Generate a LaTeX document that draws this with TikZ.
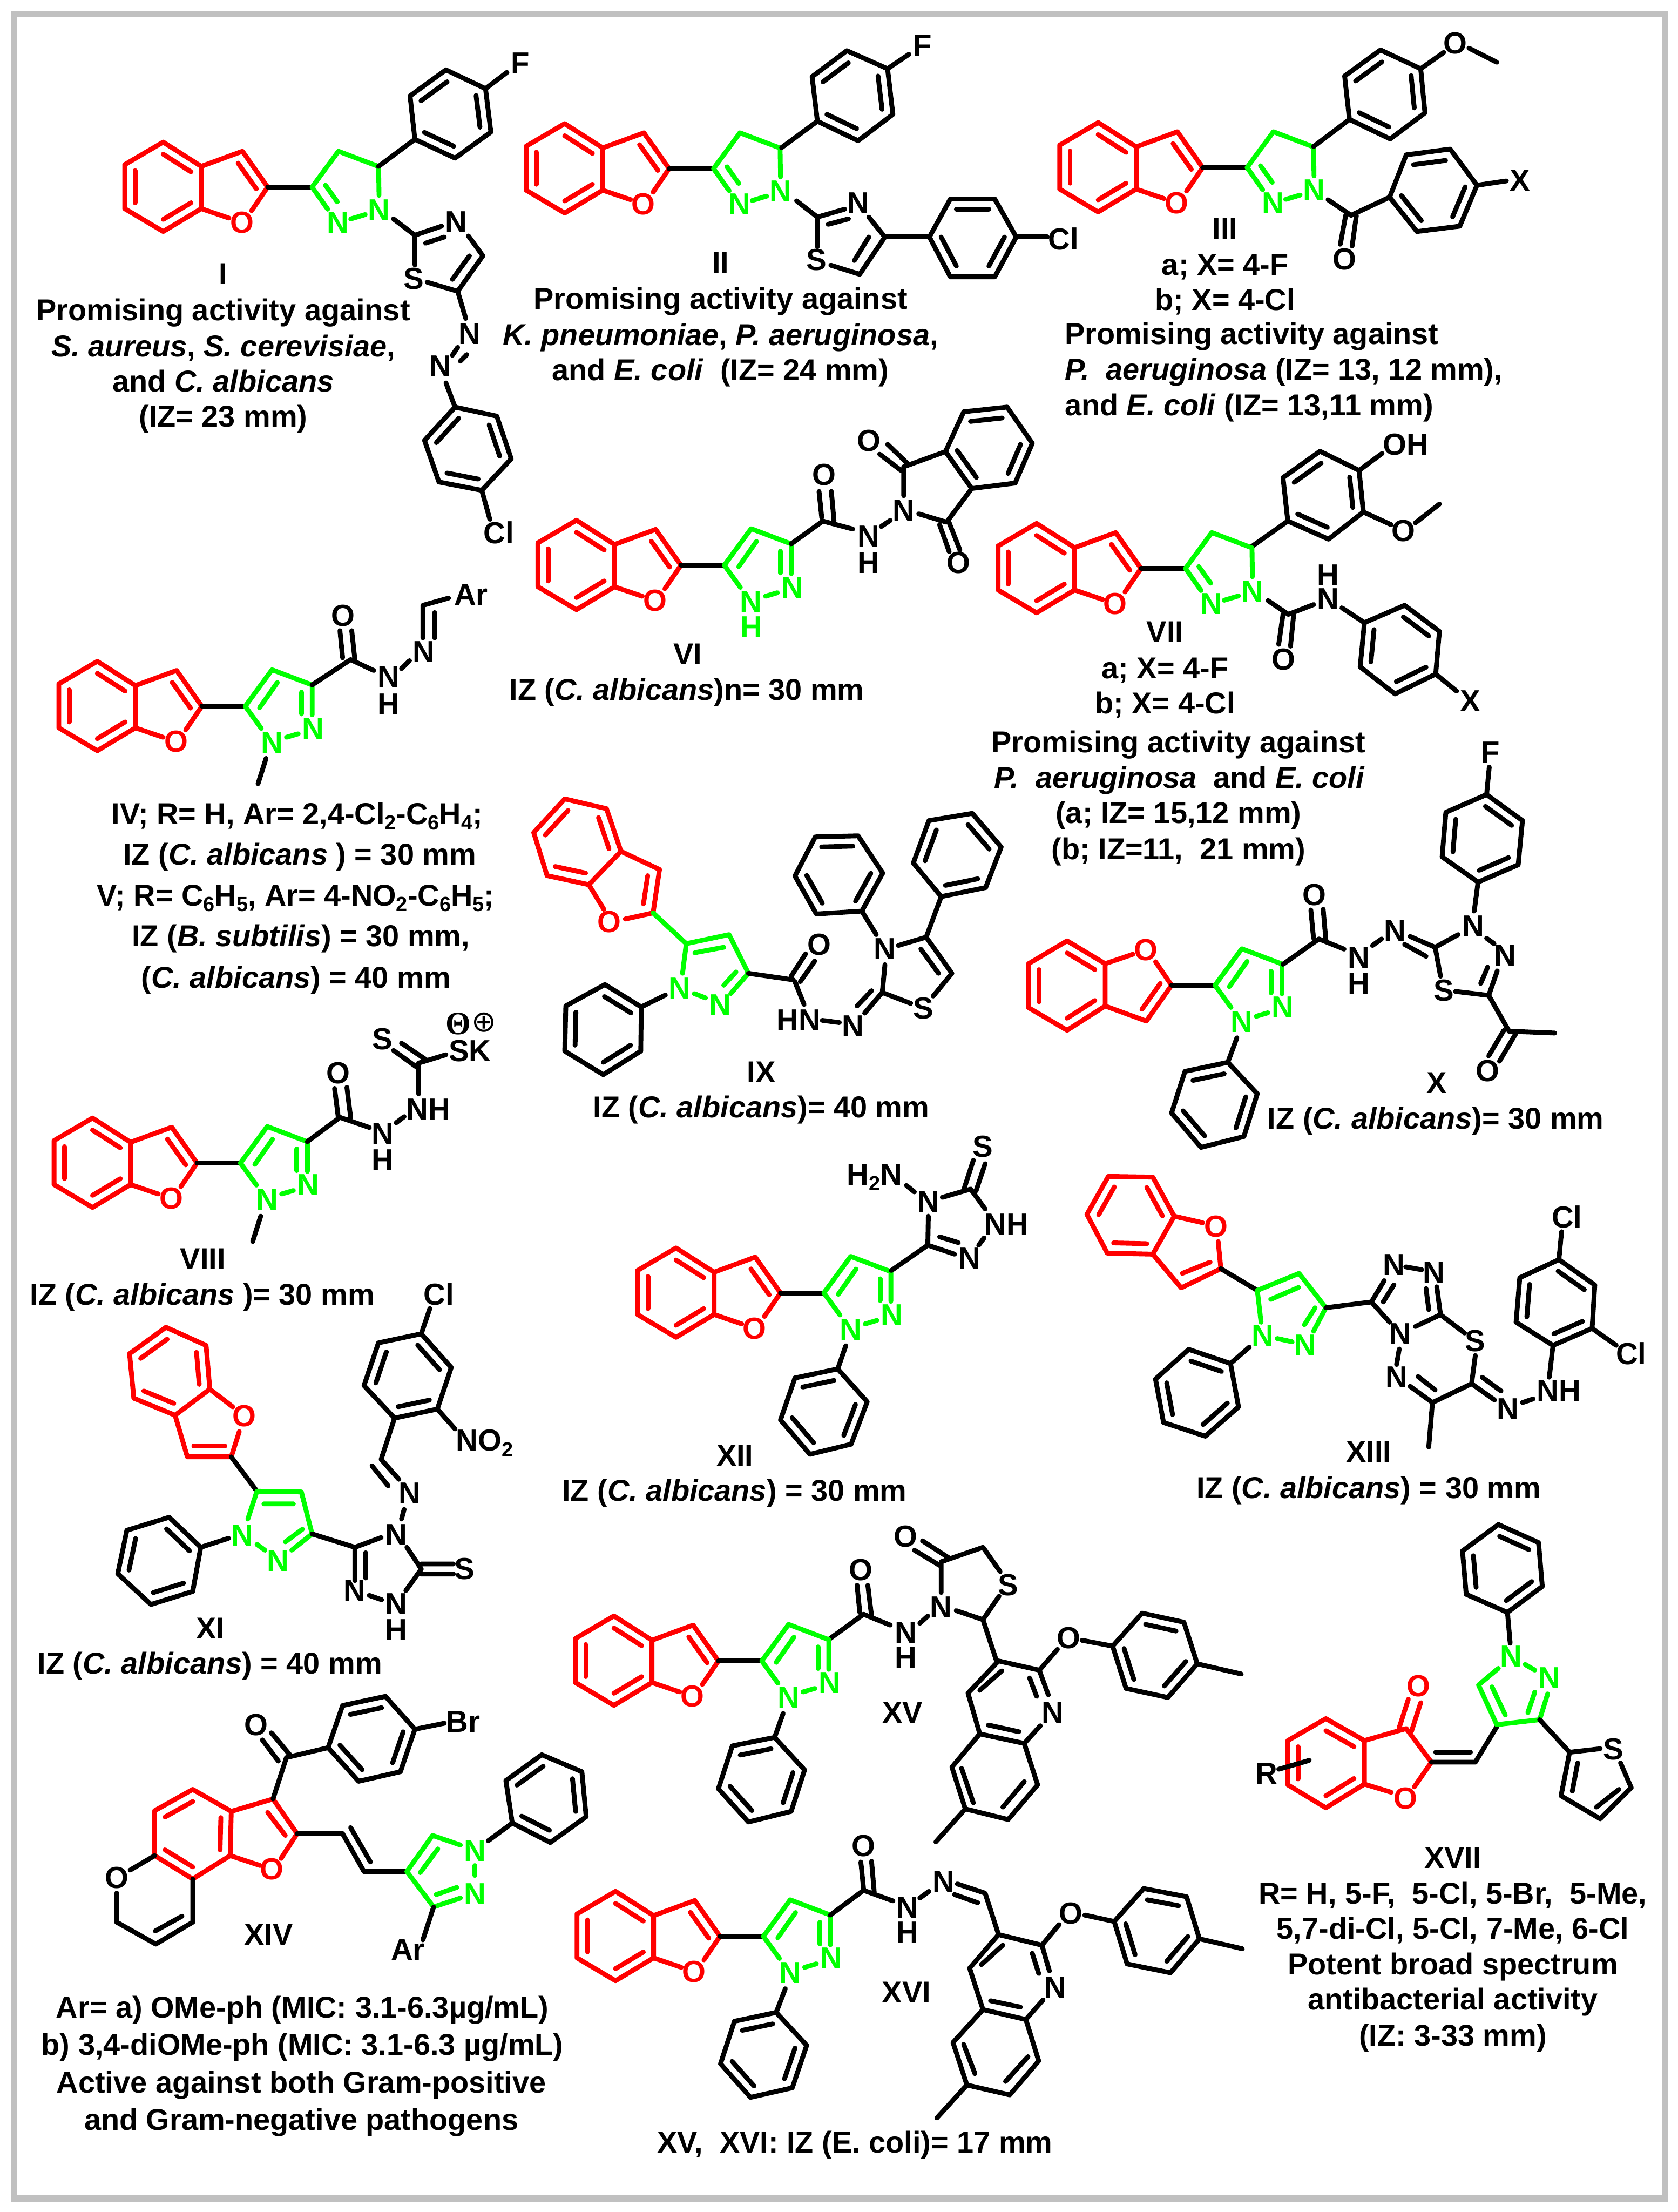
\documentclass[tikz,border=0pt]{standalone}
\usepackage{fontspec}
\setmainfont{Liberation Sans}
\newfontfamily\djv{DejaVu Sans}
\newfontfamily\lsr{Liberation Serif}
\usetikzlibrary{calc}
\newcounter{ln}
\tikzset{
 bond/.style={line width=3.4pt,line cap=round,line join=round},
 bk/.style={bond,black},
 rd/.style={bond,color={rgb,255:red,255;green,0;blue,0}},
 gr/.style={bond,color={rgb,255:red,0;green,255;blue,0}},
 atom/.style={inner sep=0pt,font=\fontsize{21.6}{21.6}\selectfont\bfseries},
 lbl/.style={inner sep=0pt,font=\fontsize{21.4}{25}\selectfont\bfseries},
 cA/.style={x=.3797pt,y=-.2566pt},
 cB/.style={xshift=595.4pt,x=.38pt,y=-.2566pt},
 cC/.style={yshift=-402.3pt,x=.3797pt,y=-.2566pt},
 cD/.style={xshift=595.4pt,yshift=-402.3pt,x=.38pt,y=-.2566pt},
 cE/.style={yshift=-804.7pt,x=.3797pt,y=-.2566pt},
 cF/.style={xshift=595.4pt,yshift=-804.7pt,x=.38pt,y=-.2566pt},
 cG/.style={yshift=-1174.8pt,x=.3797pt,y=-.251pt},
 cH/.style={xshift=595.4pt,yshift=-1174.8pt,x=.38pt,y=-.251pt},
}
\definecolor{rdc}{RGB}{255,0,0}
\definecolor{grc}{RGB}{0,255,0}
\definecolor{frm}{RGB}{192,192,192}
\newcommand\bz[3]{%
  \foreach \px/\py [count=\i from 0] in {#3} {\coordinate (v\i) at (\px,\py);}
  \coordinate (vc) at ($(v0)!.5!(v3)$);
  \draw[#1] (v0)--(v1)--(v2)--(v3)--(v4)--(v5)--cycle;
  \ifnum#2=0
    \foreach \a/\b in {0/1,2/3,4/5} {\draw[#1] ($(v\a)!.27!(vc)$)--($(v\b)!.27!(vc)$);}
  \else
    \foreach \a/\b in {1/2,3/4,5/0} {\draw[#1] ($(v\a)!.27!(vc)$)--($(v\b)!.27!(vc)$);}
  \fi
}
\newcommand\atm[3][black]{\stepcounter{ln}\node[atom,text=#1] (a\arabic{ln}) at (#2) {#3};}
\newcommand\tx[2]{\stepcounter{ln}\node[lbl,anchor=base] (t\arabic{ln}) at (#1) {#2};}
\newcommand\txl[2]{\stepcounter{ln}\node[lbl,anchor=base west] (t\arabic{ln}) at (#1) {#2};}
\newcommand\sbs[1]{\raisebox{-4pt}{\fontsize{14.5}{14.5}\selectfont #1}}
% benzofuran, C2 at #2
\newcommand\bfu[2][1]{\begin{scope}[shift={(#2)},x=1pt,y=-1pt,yscale=#1]
  \bz{rd}{0}{-74.1/-31.9,-47.1/-14.7,-47.1/15.3,-74.1/31.5,-101.4/15.3,-101.4/-15.9}
  \draw[rd] (-47.1,-14.7)--(-17.9,-25.4)--(0,0)--(-11.4,16.7);
  \draw[rd] (-27.4,22)--(-47.1,15.3);
  \draw[rd] (-21,-17)--(-8,1.3);
  \atm[rdc]{-18.3,25.1}{O}
\end{scope}}
% pyrazole attached to C2 at #1
\newcommand\pzo[1]{\begin{scope}[shift={(#1)},x=1pt,y=-1pt]
  \draw[bk] (0,0)--(30.8,0);
  \draw[gr] (42.2,15.7)--(30.8,0)--(49.8,-25.9)--(78.3,-15.1)--(78.3,6);
  \draw[gr] (41,1)--(53.6,-16.9);
  \draw[gr] (70.7,-10)--(70.7,5.4);
  \draw[gr] (60,22)--(68.4,19.5);
  \atm[grc]{79,15.7}{N}
  \atm[grc]{49.8,25.9}{N}
\end{scope}}
% pyrazoline attached to C2 at #1
\newcommand\pzl[1]{\begin{scope}[shift={(#1)},x=1pt,y=-1pt]
  \draw[bk] (0,0)--(31.5,0);
  \draw[gr] (42.6,15.7)--(31.5,0)--(50.2,-25.4)--(78.7,-14.6)--(79,5.9);
  \draw[gr] (41,-1.3)--(49.4,10.5);
  \draw[gr] (58.9,22.6)--(69.2,19.5);
  \atm[grc]{79,16.2}{N}
  \atm[grc]{49.8,25.1}{N}
\end{scope}}
\begin{document}
\begin{tikzpicture}[x=1pt,y=1pt]
\useasboundingbox (0,0) rectangle (1190,-1568.6);
\fill[white] (0,0) rectangle (1190,-1568.6);
\draw[frm,line width=4.7pt] (10,-10) rectangle (1181,-1559);

% ---------- I, II
\begin{scope}[cA]
\bfu{500,517}\pzl{500,517}
\bz{bk}{1}{833/193,907/245,917/365,850/437,775/385,766/265}
\draw[bk] (707,460)--(775,385) (907,245)--(947,200);
\atm{972,175}{F}
\draw[bk] (735,605)--(775,650)--(825,625) (795,672)--(830,655);
\atm{852,613}{N}
\draw[bk] (875,652)--(902,707)--(855,805)--(798,780) (877,707)--(845,772);
\atm{773,770}{S}
\draw[bk] (775,732)--(775,650);
\draw[bk] (855,805)--(870,880);
\atm{877,923}{N}
\draw[bk] (855,960)--(845,982) (872,980)--(860,998);
\atm{823,1012}{N}
\draw[bk] (833,1058)--(850,1125);
\bz{bk}{1}{850/1125,928/1150,955/1268,900/1355,820/1332,793/1217}
\draw[bk] (900,1355)--(915,1435);
\atm{932,1472}{Cl}
\tx{417,785}{I}
\tx{417,885}{Promising activity against}
\tx{417,985}{\textit{S. aureus}, \textit{S. cerevisiae},}
\tx{417,1082}{and \textit{C. albicans}}
\tx{417,1180}{(IZ= 23 mm)}
% II
\bfu{1250,466}\pzl{1250,466}
\bz{bk}{1}{1582/140,1658/190,1668/316,1603/389,1527/335,1517/212}
\draw[bk] (1460,408)--(1527,335) (1658,190)--(1698,150);
\atm{1723,125}{F}
\draw[bk] (1488,555)--(1527,600)--(1527,682) (1527,600)--(1578,578) (1547,620)--(1585,605);
\atm{1525,718}{S}
\atm{1603,562}{N}
\draw[bk] (1623,600)--(1653,655)--(1606,758)--(1552,733) (1623,655)--(1596,720);
\tx{1346,755}{II}
\tx{1346,855}{Promising activity against}
\tx{1346,955}{\textit{K. pneumoniae}, \textit{P. aeruginosa},}
\tx{1346,1052}{and \textit{E. coli}\ \ (IZ= 24 mm)}
% VI left part
\bfu{1272,1562}\pzo{1272,1562}
\draw[bk] (1478,1503)--(1537,1440)
  (1530,1358)--(1535,1430) (1553,1358)--(1558,1440);
\atm{1540,1312}{O}
\end{scope}

\begin{scope}[cB]
\draw[bk] (85,655)--(168,655);
\bz{bk}{1}{168/655,207/550,290/550,330/655,290/765,207/765}
\draw[bk] (330,655)--(388,655);
\atm{418,660}{Cl}
% III
\bfu{678,463}\pzl{678,463}
\bz{bk}{1}{1010/138,1085/190,1093/312,1028/384,952/330,943/210}
\draw[bk] (885,405)--(952,330) (1085,190)--(1128,145) (1175,133)--(1227,172);
\atm{1150,120}{O}
\draw[bk] (912,552)--(955,595)--(1027,545) (945,595)--(935,675) (965,595)--(957,680);
\atm{943,717}{O}
\bz{bk}{1}{1027/545,1058/428,1140/412,1190/512,1158/625,1078/640}
\draw[bk] (1190,512)--(1245,500);
\atm{1270,498}{X}
\tx{720,660}{III}
\tx{720,760}{a; X= 4-F}
\tx{720,858}{b; X= 4-Cl}
\txl{420,952}{Promising activity against}
\txl{420,1050}{\textit{P.\ \ aeruginosa} (IZ= 13, 12 mm),}
\txl{420,1148}{and \textit{E. coli} (IZ= 13,11 mm)}
% VI right part
\draw[bk] (-31,1440)--(25,1462);
\atm{55,1482}{N}
\atm{55,1555}{H}
\draw[bk] (78,1455)--(95,1438);
\atm{120,1410}{N}
\draw[bk] (120,1370)--(120,1290)--(198,1248) (75,1255)--(115,1300) (90,1228)--(130,1285);
\atm{55,1218}{O}
\draw[bk] (148,1420)--(200,1443)--(247,1350) (187,1450)--(205,1525) (205,1445)--(225,1520);
\atm{222,1555}{O}
\bz{bk}{1}{198/1248,232/1138,313/1125,360/1225,328/1335,247/1350}
% VII aryl
\bz{bk}{1}{897/1247,970/1300,978/1415,913/1490,837/1440,828/1320}
\draw[bk] (770,1510)--(837,1440) (970,1300)--(1013,1253) (978,1415)--(1030,1450) (1075,1445)--(1120,1393);
\atm{1057,1228}{OH}
\atm{1053,1467}{O}
\end{scope}

% ---------- IV, VIII top, IX
\begin{scope}[cC]
\bfu{377,384}\pzo{377,384}
\draw[bk] (497,528)--(482,598) (583,325)--(655,255)--(698,285) (635,175)--(640,250) (657,175)--(663,255);
\atm{641,133}{O}
\atm{726,303}{N}
\atm{726,378}{H}
\draw[bk] (750,280)--(765,258);
\atm{792,233}{N}
\draw[bk] (790,195)--(790,105)--(838,85) (812,125)--(812,195);
\atm{880,75}{Ar}
\tx{555,710}{IV; R= H, Ar= 2,4-Cl\sbs{2}-C\sbs{6}H\sbs{4};}
\tx{560,823}{IZ (\textit{C. albicans} ) = 30 mm}
\tx{552,935}{V; R= C\sbs{6}H\sbs{5}, Ar= 4-NO\sbs{2}-C\sbs{6}H\sbs{5};}
\tx{562,1048}{IZ (\textit{B. subtilis}) = 30 mm,}
\tx{553,1162}{(\textit{C. albicans}) = 40 mm}
% VI labels
\atm[grc]{1404,165}{H}
\tx{1285,268}{VI}
\tx{1283,367}{IZ (\textit{C. albicans})n= 30 mm}
% VIII upper
\draw[bk] (635,1520)--(690,1548) (625,1440)--(632,1520) (648,1437)--(655,1520);
\atm{632,1397}{O}
\atm{715,1565}{N}
\draw[bk] (740,1535)--(755,1518);
\atm{800,1497}{NH}
\draw[bk] (782,1455)--(782,1370)--(833,1347) (735,1335)--(782,1385) (750,1315)--(797,1362);
\atm{714,1303}{S}
\atm{878,1337}{SK}
\stepcounter{ln}\node[inner sep=0pt,font=\lsr\bfseries\fontsize{23}{23}\selectfont] (a\arabic{ln}) at (856,1262) {Θ};
\stepcounter{ln}\node[inner sep=0pt,font=\djv\fontsize{21}{21}\selectfont] (a\arabic{ln}) at (904,1258) {⊕};
% IX
\bz{rd}{1}{1055/640,1133/667,1160/785,1100/877,1022/852,997/733}
\draw[rd] (1160,785)--(1232,835)--(1220,955)--(1168,972) (1210,852)--(1202,930) (1100,877)--(1128,945);
\atm[rdc]{1138,980}{O}
\draw[gr] (1220,955)--(1282,1040)--(1362,1015)--(1398,1122)--(1365,1178) (1298,1065)--(1352,1050) (1375,1118)--(1352,1155) (1297,1178)--(1318,1190) (1275,1122)--(1282,1040);
\atm[grc]{1345,1210}{N}
\atm[grc]{1270,1163}{N}
\draw[bk] (1243,1182)--(1198,1215);
\bz{bk}{0}{1198/1215,1130/1153,1057/1212,1055/1337,1127/1402,1197/1337}
\draw[bk] (1398,1122)--(1482,1140) (1478,1130)--(1505,1068) (1495,1145)--(1522,1088) (1485,1145)--(1502,1208);
\atm{1530,1042}{O}
\atm{1492,1252}{HN}
\bz{bk}{1}{1610/950,1525/958,1485/853,1523/745,1603/742,1649/845}
\draw[bk] (1610,950)--(1637,1015);
\tx{1422,1423}{IX}
\tx{1422,1520}{IZ (\textit{C. albicans})= 40 mm}
\end{scope}

% ---------- VII, IX right, X
\begin{scope}[cD]
\bfu{563,3}\pzl{563,3}
\draw[bk] (800,92)--(838,130)--(885,103) (828,130)--(820,213) (848,130)--(842,218);
\atm{829,255}{O}
\atm{912,88}{N}
\atm{912,22}{H}
\draw[bk] (938,112)--(980,153);
\bz{bk}{1}{980/153,1055/105,1120/177,1113/295,1037/350,972/275}
\draw[bk] (1113,295)--(1152,342);
\atm{1178,370}{X}
\tx{608,208}{VII}
\tx{608,308}{a; X= 4-F}
\tx{608,405}{b; X= 4-Cl}
\tx{633,512}{Promising activity against}
\tx{635,610}{\textit{P.\ \ aeruginosa}\ \ and \textit{E. coli}}
\tx{633,708}{(a; IZ= 15,12 mm)}
\tx{633,807}{(b; IZ=11,\ \ 21 mm)}
% IX right
\draw[bk] (-32,1252)--(0,1258);
\atm{25,1268}{N}
\draw[bk] (80,1175)--(47,1232) (60,1170)--(33,1212) (80,1175)--(133,1205) (175,1185)--(210,1122)--(162,1022)--(110,1045) (185,1122)--(152,1055) (85,1098)--(80,1175) (162,1022)--(190,910);
\atm{157,1218}{S}
\atm{85,1055}{N}
\bz{bk}{1}{190/910,138/817,167/700,248/680,302/773,273/885}
% X
\bfu[-1]{620,1155}\pzo{620,1155}
\draw[bk] (742,1300)--(725,1368);
\bz{bk}{1}{725/1368,780/1455,755/1573,675/1603,620/1508,645/1393}
\draw[bk] (828,1097)--(895,1027)--(942,1055) (880,947)--(885,1025) (903,945)--(908,1030);
\atm{887,905}{O}
\atm{970,1078}{N}
\atm{970,1150}{H}
\draw[bk] (995,1045)--(1012,1027);
\atm{1037,1003}{N}
\draw[bk] (1065,1020)--(1112,1050)--(1155,1015) (1055,1042)--(1095,1075);
\atm{1183,992}{N}
\draw[bk] (1185,950)--(1192,870) (1208,1025)--(1222,1040);
\atm{1243,1073}{N}
\draw[bk] (1228,1115)--(1212,1183)--(1150,1172) (1210,1105)--(1197,1150) (1122,1130)--(1112,1050);
\atm{1128,1170}{S}
\bz{bk}{1}{1192/870,1125/800,1132/677,1208/628,1275/700,1267/822}
\draw[bk] (1208,628)--(1213,552);
\atm{1215,512}{F}
\draw[bk] (1212,1183)--(1250,1282)--(1335,1287) (1240,1280)--(1212,1350) (1262,1290)--(1232,1365);
\atm{1210,1392}{O}
\tx{1115,1453}{X}
\tx{1113,1552}{IZ (\textit{C. albicans})= 30 mm}
\end{scope}

% ---------- VIII, XI, XII
\begin{scope}[cE]
\bfu{368,78}\pzo{368,78}
\draw[bk] (487,225)--(472,295) (574,19)--(635,-48);
\atm{715,70}{H}
\tx{379,372}{VIII}
\tx{378,470}{IZ (\textit{C. albicans} )= 30 mm}
% XI
\bz{rd}{1}{310/532,385/582,392/703,327/775,250/728,242/605}
\draw[rd] (327,775)--(350,890)--(432,890)--(447,820) (362,860)--(420,860) (392,703)--(435,752);
\atm[rdc]{456,777}{O}
\draw[bk] (432,890)--(480,985);
\draw[gr] (463,1062)--(480,985)--(563,987)--(583,1103)--(545,1148) (493,1020)--(548,1020) (565,1090)--(533,1125) (480,1132)--(495,1148);
\atm[grc]{453,1107}{N}
\atm[grc]{519,1177}{N}
\draw[bk] (427,1115)--(375,1140);
\bz{bk}{0}{375/1140,316/1057,237/1093,220/1213,282/1298,360/1262}
\draw[bk] (583,1103)--(663,1140)--(712,1113) (760,1140)--(787,1200)--(758,1260) (713,1285)--(690,1273) (663,1232)--(663,1140) (683,1225)--(683,1155) (787,1186)--(847,1186) (787,1214)--(847,1214);
\atm{740,1105}{N}
\atm{740,1297}{N}
\atm{740,1368}{H}
\atm{663,1260}{N}
\atm{868,1200}{S}
\draw[bk] (750,1062)--(755,1035);
\atm{765,990}{N}
\draw[bk] (745,952)--(712,897)--(737,783) (725,970)--(695,915);
\bz{bk}{1}{737/783,680/693,707/575,787/550,843/643,817/758}
\draw[bk] (787,550)--(803,480) (817,758)--(850,813);
\atm{820,440}{Cl}
\atm{905,852}{NO\sbs{2}}
\tx{393,1392}{XI}
\tx{392,1490}{IZ (\textit{C. albicans}) = 40 mm}
% XII
\bfu{1458,437}\pzo{1458,437}
\draw[bk] (1580,583)--(1565,647);
\bz{bk}{1}{1565/647,1620/738,1590/855,1513/883,1458/788,1485/672}
\tx{1373,915}{XII}
\tx{1372,1012}{IZ (\textit{C. albicans}) = 30 mm}
\end{scope}

% ---------- XII right, XIII, XV right, XVII phenyl
\begin{scope}[cF]
\draw[bk] (97,375)--(165,305)--(215,330) (187,282)--(222,298);
\atm{243,342}{N}
\draw[bk] (260,305)--(270,285);
\atm{312,247}{NH}
\draw[bk] (272,205)--(245,150)--(192,173) (166,225)--(165,305) (233,148)--(250,70) (255,155)--(272,80) (140,158)--(125,140);
\atm{166,185}{N}
\atm{268,33}{S}
\atm{66,118}{H\sbs{2}N}
% XIII
\bz{rd}{1}{502/115,585/117,625/225,585/330,500/327,462/220}
\draw[rd] (625,225)--(678,243) (707,295)--(712,370)--(638,423)--(585,330) (692,352)--(640,383);
\atm[rdc]{703,253}{O}
\draw[bk] (712,370)--(780,430);
\draw[gr] (787,518)--(780,430)--(858,383)--(908,478)--(885,543) (805,455)--(857,422) (888,478)--(868,525) (817,563)--(845,572);
\atm[grc]{790,555}{N}
\atm[grc]{870,582}{N}
\draw[bk] (765,587)--(730,632);
\bz{bk}{0}{730/632,652/593,590/675,605/795,683/833,745/752}
\draw[bk] (908,478)--(993,462)--(1017,403) (1015,462)--(1035,415) (1057,365)--(1087,373) (1115,420)--(1122,497)--(1075,530) (1095,425)--(1100,483) (1027,518)--(993,462) (1122,497)--(1167,548) (1187,610)--(1180,688)--(1223,733) (1200,670)--(1235,708) (1275,740)--(1295,730) (1325,670)--(1332,582) (1180,688)--(1107,740)--(1065,695) (1112,705)--(1080,668) (1040,635)--(1045,592) (1107,740)--(1100,863);
\atm{1035,360}{N}
\atm{1110,380}{N}
\atm{1047,550}{N}
\atm{1187,570}{S}
\atm{1248,758}{N}
\atm{1343,707}{NH}
\atm{1040,670}{N}
\bz{bk}{1}{1332/582,1263/518,1270/395,1343/345,1410/415,1405/535}
\draw[bk] (1343,345)--(1348,268) (1405,535)--(1450,582);
\atm{1358,227}{Cl}
\atm{1478,605}{Cl}
\tx{988,905}{XIII}
\tx{988,1005}{IZ (\textit{C. albicans}) = 30 mm}
% XV upper
\draw[bk] (-20,1395)--(45,1325)--(95,1355) (33,1245)--(38,1320) (53,1245)--(60,1330);
\atm{40,1203}{O}
\atm{124,1375}{N}
\atm{124,1445}{H}
\draw[bk] (150,1350)--(165,1330);
\atm{190,1305}{N}
\draw[bk] (190,1265)--(190,1180)--(268,1140)--(300,1207) (187,1190)--(140,1148) (205,1170)--(155,1122) (298,1275)--(268,1340)--(218,1315) (268,1340)--(293,1453);
\atm{124,1110}{O}
\atm{315,1245}{S}
\draw[bk] (373,1480)--(407,1422) (453,1397)--(510,1413);
\atm{428,1390}{O}
\bz{bk}{1}{510/1413,565/1322,643/1347,668/1462,613/1555,535/1530}
\draw[bk] (668,1462)--(750,1490);
% XVII phenyl
\draw[bk] (1252,1405)--(1247,1320);
\bz{bk}{1}{1247/1320,1170/1270,1163/1150,1230/1077,1305/1127,1312/1248}
\end{scope}

% ---------- XIV, XV, XVI left
\begin{scope}[cG]
\bz{rd}{1}{360/375,432/437,430/562,360/628,289/562,289/435}
\draw[rd] (432,437)--(510,402)--(555,500)--(525,570) (500,440)--(533,505) (486,590)--(430,562);
\atm[rdc]{508,600}{O}
\draw[bk] (555,500)--(640,500)--(680,607)--(760,607) (655,483)--(692,580);
\draw[gr] (810,707)--(760,607)--(808,505)--(860,532) (785,610)--(818,543) (887,590)--(887,618) (860,682)--(810,707) (853,652)--(815,672);
\atm[grc]{887,548}{N}
\atm[grc]{887,670}{N}
\draw[bk] (810,707)--(790,800);
\atm{762,827}{Ar}
\draw[bk] (912,520)--(957,470);
\bz{bk}{1}{957/470,945/350,1012/277,1087/325,1095/452,1028/525}
\draw[bk] (510,402)--(535,285)--(613,257) (520,295)--(490,235) (543,280)--(507,215);
\atm{478,193}{O}
\bz{bk}{1}{613/257,640/138,720/112,775/205,748/325,670/352}
\draw[bk] (775,205)--(830,188);
\atm{865,183}{Br}
\draw[bk] (289,562)--(243,603) (218,668)--(218,750)--(291,812)--(360,750)--(360,628) (290,775)--(340,733);
\atm{218,625}{O}
\tx{502,815}{XIV}
\tx{565,1020}{Ar= a) OMe-ph (MIC: 3.1-6.3µg/mL)}
\tx{565,1125}{b) 3,4-diOMe-ph (MIC: 3.1-6.3 µg/mL)}
\tx{563,1233}{Active against both Gram-positive}
\tx{563,1338}{and Gram-negative pathogens}
% XV
\bfu{1342,12}\pzo{1342,12}
\draw[bk] (1463,160)--(1447,228);
\bz{bk}{1}{1447/228,1503/320,1478/437,1398/467,1342/373,1368/252}
% XVI
\bfu{1345,790}\pzo{1345,790}
\draw[bk] (1467,938)--(1450,1005);
\bz{bk}{1}{1450/1005,1507/1098,1480/1218,1402/1245,1346/1150,1372/1030}
\tx{1597,1402}{XV,\ \ XVI: IZ (E. coli)= 17 mm}
\end{scope}

% ---------- XV, XVI quinolines, XVII
\begin{scope}[cH]
% XV quinoline
\draw[bk] (297,12)--(373,38)--(390,108) (355,60)--(368,112) (375,195)--(345,245)--(262,218)--(240,103)--(297,12) (335,212)--(278,193) (262,95)--(303,40);
\atm{398,157}{N}
\draw[bk] (345,245)--(370,362)--(315,460)--(235,430)--(210,312)--(262,218) (345,353)--(305,425) (228,315)--(250,413) (235,430)--(180,523);
\tx{118,187}{XV}
% XVI
\draw[bk] (-17,730)--(45,660)--(100,690) (40,580)--(45,655) (60,578)--(65,665);
\atm{45,535}{O}
\atm{127,708}{N}
\atm{127,778}{H}
\draw[bk] (150,682)--(167,663);
\atm{195,635}{N}
\draw[bk] (220,642)--(272,668)--(297,785)--(378,815)--(392,888) (215,672)--(258,695) (360,838)--(372,895) (380,970)--(348,1025)--(268,997)--(243,880)--(297,785) (338,990)--(282,972) (265,870)--(305,815);
\atm{403,935}{N}
\draw[bk] (348,1025)--(372,1142)--(318,1238)--(238,1210)--(212,1090)--(268,997) (352,1130)--(310,1200) (232,1095)--(253,1178) (238,1210)--(182,1303);
\draw[bk] (378,815)--(410,757) (458,730)--(513,748);
\atm{432,725}{O}
\bz{bk}{1}{513/748,568/655,648/678,672/797,618/893,537/868}
\draw[bk] (672,797)--(752,825);
\tx{125,978}{XVI}
% XVII
\bz{rd}{0}{908/175,980/237,980/360,908/427,837/362,837/237}
\draw[rd] (980,237)--(1058,203)--(1105,298)--(1073,368) (1030,383)--(980,360) (1045,200)--(1062,120) (1068,210)--(1085,130);
\atm[rdc]{1057,400}{O}
\atm[rdc]{1081,83}{O}
\draw[bk] (1105,298)--(1187,298)--(1227,198) (1113,270)--(1178,270);
\draw[gr] (1230,33)--(1193,80)--(1227,192)--(1307,178)--(1322,105) (1218,85)--(1243,165) (1285,158)--(1298,100) (1280,22)--(1298,38);
\atm[grc]{1254,-1}{N}
\atm[grc]{1325,60}{N}
\draw[bk] (1307,178)--(1363,270)--(1420,260) (1458,300)--(1478,370)--(1420,458)--(1347,393)--(1363,270) (1455,375)--(1413,425) (1368,380)--(1378,300);
\atm{1445,262}{S}
\atm{797,330}{R}
\draw[bk] (820,318)--(877,293);
\tx{1145,597}{XVII}
\tx{1145,698}{R= H, 5-F,\ \ 5-Cl, 5-Br,\ \ 5-Me,}
\tx{1145,798}{5,7-di-Cl, 5-Cl, 7-Me, 6-Cl}
\tx{1145,898}{Potent broad spectrum}
\tx{1145,998}{antibacterial activity}
\tx{1145,1100}{(IZ: 3-33 mm)}
\end{scope}
\end{tikzpicture}
\end{document}
